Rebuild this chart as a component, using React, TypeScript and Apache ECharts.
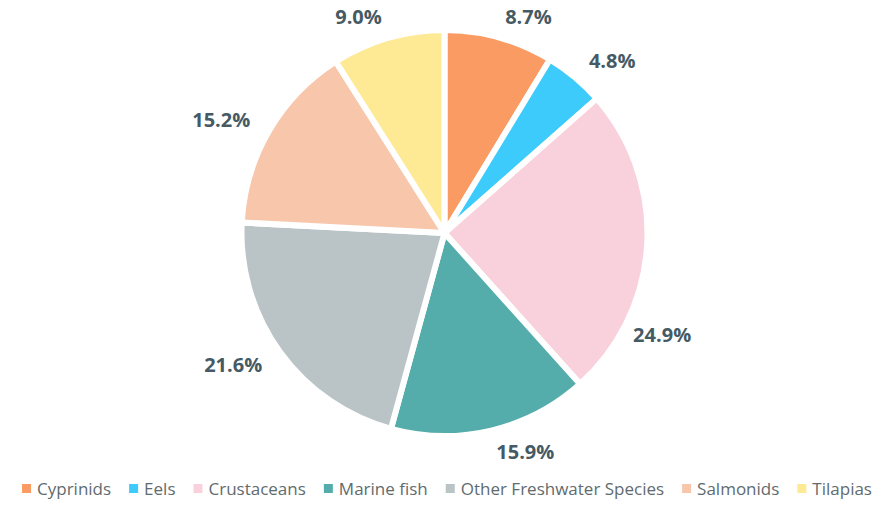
import React, { useEffect, useRef } from "react";
import * as echarts from "echarts";

const categories = [
  "Cyprinids",
  "Eels",
  "Crustaceans",
  "Marine fish",
  "Other Freshwater Species",
  "Salmonids",
  "Tilapias",
];
const shares = [8.7, 4.8, 24.9, 15.9, 21.6, 15.2, 9.0];
const colors = ["#F99B62", "#3DCBFC", "#F9D1DC", "#55ADAB", "#BAC3C5", "#F8C6AB", "#FEE995"];

export default function App() {
  const ref = useRef<HTMLDivElement>(null);
  useEffect(() => {
    document.body.style.margin = "0";
    if (!ref.current) return;
    const chart = echarts.init(ref.current, undefined, { renderer: "svg" });
    const data = categories.map((name, i) => ({
      name,
      value: shares[i],
      itemStyle: { color: colors[i] },
    }));
    chart.setOption({
      animation: false,
      color: colors,
      legend: {
        bottom: 3,
        left: "center",
        icon: "rect",
        itemWidth: 11,
        itemHeight: 11,
        itemGap: 16,
        textStyle: { fontSize: 17, color: "#616b6e", fontFamily: "Open Sans" },
        data: categories,
      },
      series: [
        {
          type: "pie",
          center: [444.5, 233],
          radius: [0, 203],
          startAngle: 90,
          clockwise: true,
          avoidLabelOverlap: false,
          label: {
            show: true,
            position: "outside",
            distanceToLabelLine: 0,
            formatter: (p: any) => Number(p.value).toFixed(1) + "%",
            fontSize: 20,
            fontWeight: "bold",
            color: "#455A64",
            fontFamily: "Open Sans",
          },
          labelLine: { show: false, length: 22, length2: 0 },
          labelLayout: (p: any) =>
            p.dataIndex === 2 ? { dx: -36, dy: 88 } : {},
          itemStyle: { borderColor: "#fff", borderWidth: 6 },
          emphasis: { scale: false },
          data,
        },
      ],
    });
    return () => chart.dispose();
  }, []);
  return <div ref={ref} style={{ width: 892, height: 505 }} />;
}
